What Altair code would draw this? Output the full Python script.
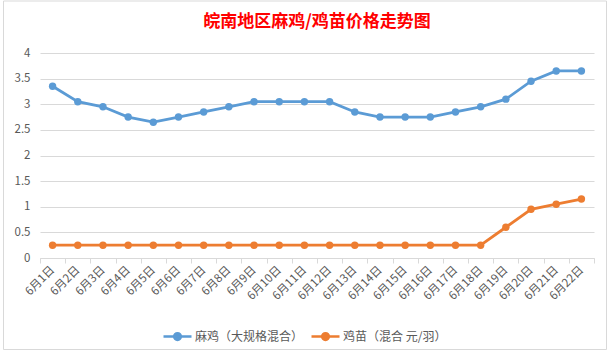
import altair as alt
import pandas as pd

dates = [f"6月{d}日" for d in range(1, 23)]
series_a = "麻鸡（大规格混合）"
series_b = "鸡苗（混合 元/羽）"
values_a = [3.35, 3.05, 2.95, 2.75, 2.65, 2.75, 2.85, 2.95, 3.05, 3.05, 3.05,
            3.05, 2.85, 2.75, 2.75, 2.75, 2.85, 2.95, 3.1, 3.45, 3.65, 3.65]
values_b = [0.25] * 18 + [0.6, 0.95, 1.05, 1.15]

rows = []
for d, v in zip(dates, values_a):
    rows.append({"date": d, "series": series_a, "value": v})
for d, v in zip(dates, values_b):
    rows.append({"date": d, "series": series_b, "value": v})
df = pd.DataFrame(rows)

FONT = "Noto Sans CJK SC"
GRAY = "#595959"

x_enc = alt.X("date:N", sort=dates, bandPosition=0.5,
              scale=alt.Scale(type="band", paddingInner=0, paddingOuter=0),
              axis=alt.Axis(title=None, labelAngle=-45, labelAlign="right",
                            labelBaseline="middle", labelFontSize=11.5,
                            labelColor=GRAY, labelFont=FONT, tickBand="extent",
                            domainColor="#d9d9d9", tickColor="#d9d9d9",
                            tickSize=5, labelPadding=5, grid=False))
y_enc = alt.Y("value:Q", scale=alt.Scale(domain=[0, 4], nice=False),
              axis=alt.Axis(title=None, values=[0, 0.5, 1, 1.5, 2, 2.5, 3, 3.5, 4],
                            format="~g", labelFontSize=11.5, labelColor=GRAY,
                            labelFont=FONT, domain=False, ticks=False,
                            labelPadding=10, gridColor="#d9d9d9"))
color_enc = alt.Color("series:N", sort=[series_a, series_b],
                      scale=alt.Scale(domain=[series_a, series_b],
                                      range=["#5B9BD5", "#ED7D31"]),
                      legend=alt.Legend(
                          title=None, orient="none", direction="horizontal",
                          legendX=122, legendY=268,
                          symbolType="M-1,0L1,0M-0.24,0a0.24,0.24 0 1,0 0.48,0a0.24,0.24 0 1,0 -0.48,0",
                          symbolSize=784, symbolStrokeWidth=2.5,
                          labelFontSize=12, labelColor=GRAY, labelFont=FONT,
                          columnPadding=2, labelOffset=2))

lines = alt.Chart(df).mark_line(strokeWidth=2.8).encode(
    x=x_enc, y=y_enc, color=color_enc)
points = alt.Chart(df).mark_circle(size=55, opacity=1).encode(
    x=x_enc, y=y_enc, color=alt.Color("series:N", legend=None,
                                      scale=alt.Scale(domain=[series_a, series_b],
                                                      range=["#5B9BD5", "#ED7D31"])))

border = alt.Chart(pd.DataFrame({"a": [0]})).mark_rect(
    fill=None, stroke="#d9d9d9", strokeWidth=1).encode(
    x=alt.value(-36.5), x2=alt.value(566.5), y=alt.value(-52), y2=alt.value(296.5))

chart = alt.layer(border, lines, points).properties(
    width=554, height=205,
    autosize=alt.AutoSizeParams(type="none"),
    padding={"left": 40, "top": 53, "right": 17, "bottom": 97},
    title=alt.TitleParams("皖南地区麻鸡/鸡苗价格走势图", color="#FF0000",
                          fontSize=17, font=FONT, fontWeight="bold",
                          anchor="middle", offset=-30),
    background="white",
).configure_view(stroke=None)

chart.save("out.html", embed_options={"renderer": "svg", "actions": False})
